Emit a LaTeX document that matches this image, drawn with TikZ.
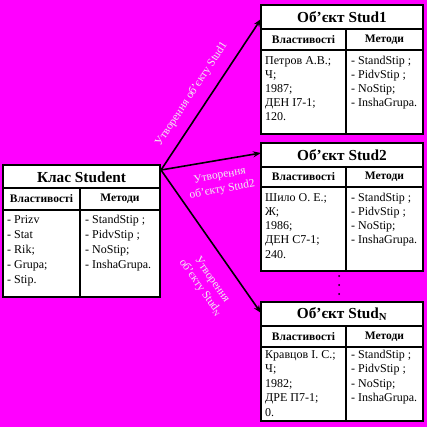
\documentclass[tikz,border=0pt]{standalone}
\usepackage{fontspec}
\setmainfont{Liberation Serif}
\usetikzlibrary{arrows.meta}
\definecolor{bg}{RGB}{255,0,255}
\definecolor{lblc}{RGB}{240,240,240}
\tikzset{
 outer/.style={draw=black, line width=2.5pt, fill=white, inner sep=0pt, outer sep=0pt, anchor=north west},
 inner/.style={draw=black, line width=2pt},
 ttl/.style={font=\fontsize{15.3}{17}\selectfont\bfseries, inner sep=0pt},
 hdr/.style={font=\fontsize{11.5}{13}\selectfont\bfseries, inner sep=0pt},
 bod/.style={font=\fontsize{12}{14}\selectfont, inner sep=0pt, anchor=base west},
 lbl/.style={font=\fontsize{11.5}{14}\selectfont, text=lblc, inner sep=0pt, align=center},
 arr/.style={line width=1.6pt, -{Stealth[length=8pt,width=6pt]}},
 dotm/.style={fill=black, circle, inner sep=0pt, minimum size=2pt},
}
\begin{document}
\begin{tikzpicture}[x=1pt,y=-1pt]
\fill[bg] (0,0) rectangle (427,427);
\useasboundingbox (0,0) rectangle (427,427);

% ---------- Class Student ----------
\node[outer, minimum width=157pt, minimum height=132pt] (cls) at (3,165) {};
\draw[inner] (3,188) -- (160,188);
\draw[inner] (3,210) -- (160,210);
\draw[inner] (80,188) -- (80,297);
\node[ttl] (clsT) at (81.5,177) {Клас Student};
\node[hdr] (clsH1) at (41.5,199) {Властивості};
\node[hdr] (clsH2) at (120,199) {Методи};
\foreach \t [count=\i from 0] in {{- Prizv},{- Stat},{- Rik;},{- Grupa;},{- Stip.}}
  \node[bod] (clsP\i) at (7,223+15*\i) {\t};
\foreach \t [count=\i from 0] in {{- StandStip ;},{- PidvStip ;},{- NoStip;},{- InshaGrupa.}}
  \node[bod] (clsM\i) at (85,223+15*\i) {\t};

% ---------- Stud1 ----------
\node[outer, minimum width=162pt, minimum height=129pt] (s1) at (261,5) {};
\draw[inner] (261,29) -- (423,29);
\draw[inner] (261,50) -- (423,50);
\draw[inner] (346,29) -- (346,134);
\node[ttl] (s1T) at (342,17) {Об'єкт Stud1};
\node[hdr] (s1H1) at (303.5,39.5) {Властивості};
\node[hdr] (s1H2) at (384.5,39.5) {Методи};
\foreach \t [count=\i from 0] in {{Петров А.В.;},{Ч;},{1987;},{ДЕН І7-1;},{120.}}
  \node[bod] (s1P\i) at (265,65+14*\i) {\t};
\foreach \t [count=\i from 0] in {{- StandStip ;},{- PidvStip ;},{- NoStip;},{- InshaGrupa.}}
  \node[bod] (s1M\i) at (351,65+14*\i) {\t};

% ---------- Stud2 ----------
\node[outer, minimum width=162pt, minimum height=128pt] (s2) at (261,143) {};
\draw[inner] (261,167) -- (423,167);
\draw[inner] (261,187) -- (423,187);
\draw[inner] (346,167) -- (346,271);
\node[ttl] (s2T) at (342,155) {Об'єкт Stud2};
\node[hdr] (s2H1) at (303.5,177) {Властивості};
\node[hdr] (s2H2) at (384.5,177) {Методи};
\foreach \t [count=\i from 0] in {{Шило О. Е.;},{Ж;},{1986;},{ДЕН С7-1;},{240.}}
  \node[bod] (s2P\i) at (265,201+14.3*\i) {\t};
\foreach \t [count=\i from 0] in {{- StandStip ;},{- PidvStip ;},{- NoStip;},{- InshaGrupa.}}
  \node[bod] (s2M\i) at (351,201+14.3*\i) {\t};

% ---------- dots ----------
\node[dotm] (d1) at (339,276) {};
\node[dotm] (d2) at (339,285) {};
\node[dotm] (d3) at (339,294) {};

% ---------- StudN ----------
\node[outer, minimum width=162pt, minimum height=119pt] (sn) at (261,302) {};
\draw[inner] (261,326) -- (423,326);
\draw[inner] (261,347) -- (423,347);
\draw[inner] (346,326) -- (346,421);
\node[ttl] (snT) at (342,314) {Об'єкт Stud\textsubscript{N}};
\node[hdr] (snH1) at (303.5,336.5) {Властивості};
\node[hdr] (snH2) at (384.5,336.5) {Методи};
\foreach \t [count=\i from 0] in {{Кравцов І. С.;},{Ч;},{1982;},{ДРЕ П7-1;},{0.}}
  \node[bod] (snP\i) at (265,358+14.5*\i) {\t};
\foreach \t [count=\i from 0] in {{- StandStip ;},{- PidvStip ;},{- NoStip;},{- InshaGrupa.}}
  \node[bod] (snM\i) at (351,358+14.5*\i) {\t};

% ---------- arrows ----------
\coordinate (src) at (161,170);
\coordinate (t1) at (261,19);
\coordinate (t2) at (261,153);
\coordinate (t3) at (261,313);
\draw[arr] (src) -- (t1);
\draw[arr] (src) -- (t2);
\draw[arr] (src) -- (t3);

% ---------- labels ----------
\node[lbl, rotate=56.7] (l1) at (191.5,94) {Утворення об'єкту Stud1};
\node[lbl, rotate=10] (l2) at (221,183) {Утворення\\об'єкту Stud2};
\node[lbl, rotate=-55] (l3) at (206,284) {Утворення\\об'єкту Stud\textsubscript{N}};
\end{tikzpicture}
\end{document}
